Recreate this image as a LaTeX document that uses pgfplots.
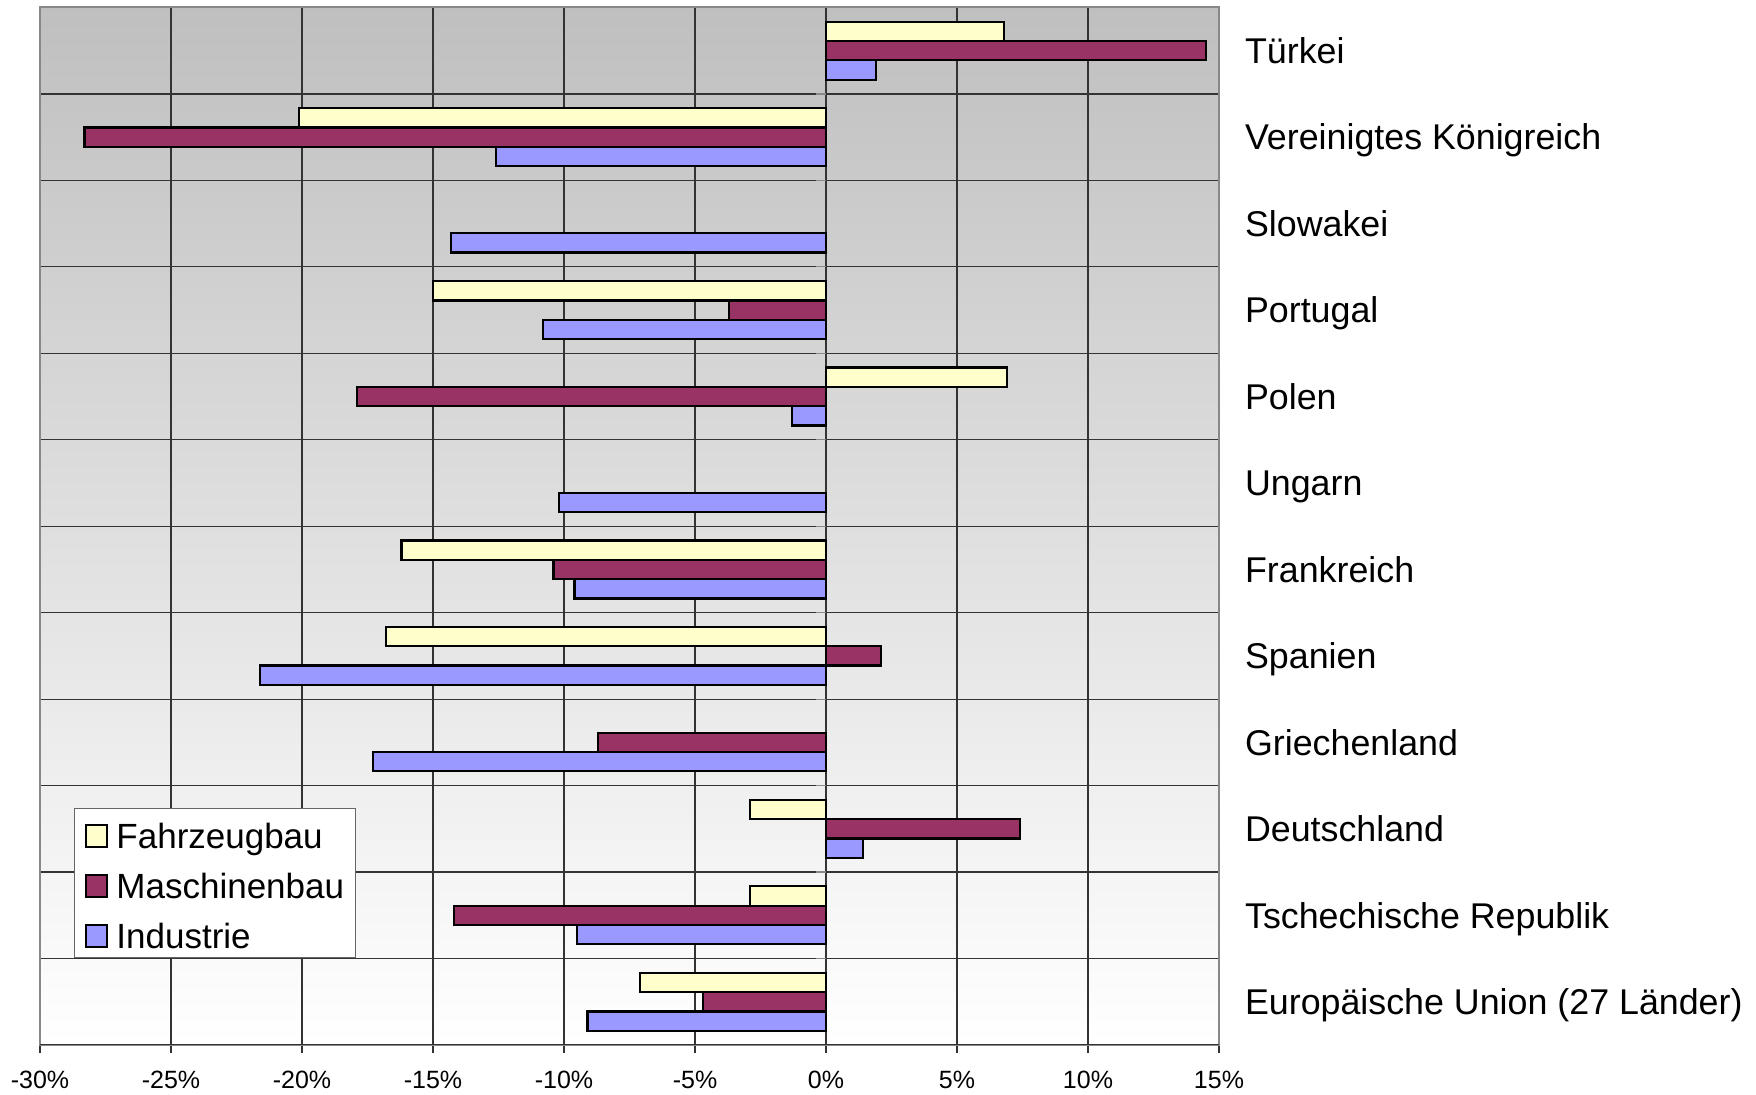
\documentclass[border=0pt]{standalone}
\usepackage{fontspec}
\setmainfont{Liberation Sans}
\usepackage{pgfplots}
\pgfplotsset{compat=1.18}
\definecolor{fahrzeug}{HTML}{FFFFCC}
\definecolor{maschinen}{HTML}{993366}
\definecolor{industrie}{HTML}{9999FF}
\definecolor{gridcol}{HTML}{333333}
\definecolor{framecol}{HTML}{888888}

\begin{document}
\begin{tikzpicture}
\useasboundingbox (-20pt,-25pt) rectangle (858pt,522.5pt);
\begin{axis}[
    at={(0pt,0pt)}, anchor=south west,
    scale only axis, width=589.5pt, height=518.75pt,
    xbar, bar width=9.65pt,
    xmin=-30, xmax=15, ymin=-0.5, ymax=11.5,
    xtick={-30,-25,...,15},
    xticklabels={-30\%,-25\%,-20\%,-15\%,-10\%,-5\%,0\%,5\%,10\%,15\%},
    xticklabel style={font=\fontsize{12.5}{14}\selectfont, yshift=-5.5pt},
    xtick pos=lower, tick align=outside,
    major tick length=4pt,
    xtick style={draw=gridcol, line width=0.6pt},
    ytick={0,...,11},
    yticklabels={Europäische Union (27 Länder),Tschechische Republik,Deutschland,Griechenland,Spanien,Frankreich,Ungarn,Polen,Portugal,Slowakei,Vereinigtes Königreich,Türkei},
    yticklabel pos=right,
    yticklabel style={font=\fontsize{17.9}{21}\selectfont, anchor=base west, xshift=5.5pt, yshift=-6.4pt},
    ytick style={draw=none},
    minor ytick={0.5,1.5,...,10.5},
    xmajorgrids, yminorgrids,
    major grid style={draw=gridcol, line width=0.6pt},
    minor grid style={draw=gridcol, line width=0.6pt},
    axis line style={draw=framecol, line width=1pt},
    axis background/.style={top color=black!25, bottom color=white},
    every axis plot/.append style={draw=black, line width=1.1pt},
    legend style={
        at={(0.0288,0.2284)}, anchor=north west,
        draw=black!60, line width=0.5pt, fill=white,
        inner xsep=5.5pt, inner ysep=4pt,
        row sep=8.7pt,
        font=\fontsize{17.5}{21}\selectfont,
        nodes={inner sep=0pt, text height=15.8pt, text depth=0.5pt},
        cells={anchor=base west},
        /tikz/every odd column/.style={column sep=4pt},
    },
    legend image code/.code={\draw[#1, line width=1pt] (0pt,0.5pt) rectangle (10.5pt,11.5pt);},
]
\addplot[fill=fahrzeug, bar shift=9.65pt] coordinates {
    (6.8,11) (-20.1,10) (-15.0,8) (6.9,7) (-16.2,5) (-16.8,4) (-2.9,2) (-2.9,1) (-7.1,0)};
\addlegendentry{Fahrzeugbau}
\addplot[fill=maschinen, bar shift=0pt] coordinates {
    (14.5,11) (-28.3,10) (-3.7,8) (-17.9,7) (-10.4,5) (2.1,4) (-8.7,3) (7.4,2) (-14.2,1) (-4.7,0)};
\addlegendentry{Maschinenbau}
\addplot[fill=industrie, bar shift=-9.65pt] coordinates {
    (1.9,11) (-12.6,10) (-14.3,9) (-10.8,8) (-1.3,7) (-10.2,6) (-9.6,5) (-21.6,4) (-17.3,3) (1.4,2) (-9.5,1) (-9.1,0)};
\addlegendentry{Industrie}
% kleine Kategorie-Striche an der 0-Linie
\pgfplotsinvokeforeach{-0.5,0.5,...,11.5}{
    \draw[framecol, line width=0.6pt] (axis cs:0,#1) -- ++(-5pt,0pt);
}
\draw[gridcol, line width=0.8pt] (axis description cs:0,0) -- (axis description cs:1,0);
\end{axis}
\end{tikzpicture}
\end{document}
